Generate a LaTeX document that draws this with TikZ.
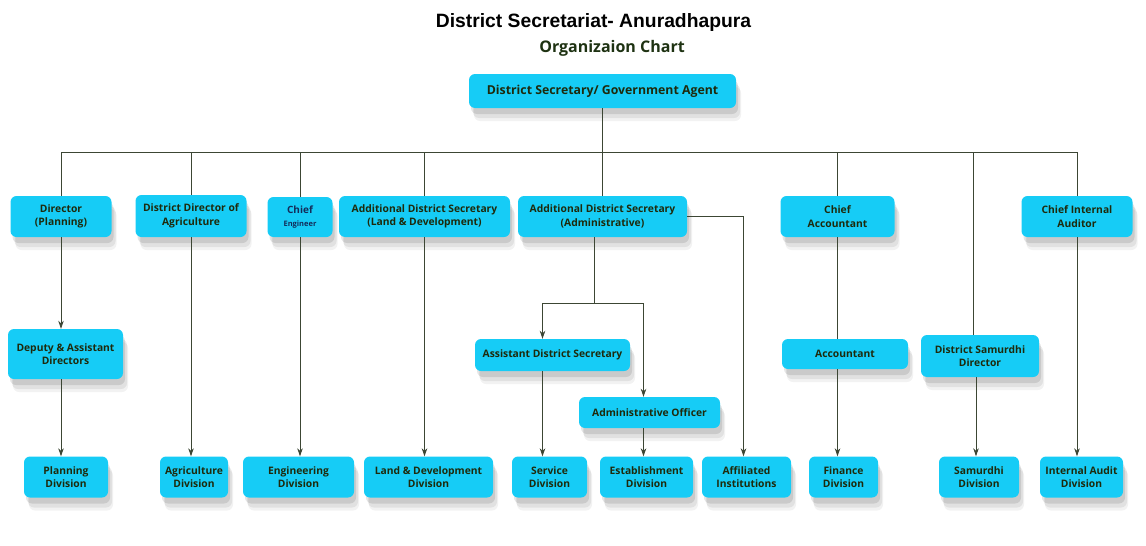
\documentclass[tikz,border=0pt]{standalone}
\usepackage{fontspec}
\setmainfont{Open Sans}
\newfontfamily\titlefont{Liberation Sans}
\usetikzlibrary{arrows.meta,shadows}
\definecolor{boxfill}{RGB}{22,204,246}
\definecolor{boxtext}{RGB}{30,42,12}
\definecolor{linecol}{RGB}{60,70,52}
\definecolor{subgreen}{RGB}{30,50,18}
\definecolor{chiefblue}{RGB}{20,45,90}

\begin{document}
\begin{tikzpicture}[x=1pt, y=-1pt,
    box/.style={fill=boxfill, rounded corners=6pt, align=center, inner sep=2pt, text=boxtext,
      font=\bfseries\fontsize{10.3}{13.5}\selectfont,
      drop shadow={shadow xshift=5pt, shadow yshift=-13pt, opacity=0.05, fill=black},
      drop shadow={shadow xshift=4pt, shadow yshift=-10pt, opacity=0.07, fill=black},
      drop shadow={shadow xshift=2pt, shadow yshift=-6pt, opacity=0.1, fill=black}},
    sz/.style 2 args={minimum width=#1pt, minimum height=#2pt},
    link/.style={draw=linecol, line width=0.8pt},
    arr/.style={link, -{Stealth[length=8pt, width=5.5pt]}}]
    \useasboundingbox (0,0) rectangle (1146,546);

    \node[font=\titlefont\bfseries\fontsize{19.3}{22}\selectfont] (title) at (593.5,23) {District Secretariat- Anuradhapura};
    \node[font=\bfseries\fontsize{16}{18}\selectfont, text=subgreen] (subtitle) at (612,48) {Organizaion Chart};

    \node[box, sz={267}{34}, font=\bfseries\fontsize{12.3}{14}\selectfont] (gov) at (602.5,91) {District Secretary/ Government Agent};
    \coordinate (bus) at (602.5,152);

    % first level
    \node[box, sz={101}{41}] (dirP) at (61,216.5) {Director\\(Planning)};
    \node[box, sz={111}{42}] (dirAg) at (191,216) {District Director of\\Agriculture};
    \node[box, sz={65}{40}, text=chiefblue] (chEng) at (300,217) {\fontsize{10}{11}\selectfont Chief\\[-1pt]\fontsize{7.5}{9}\selectfont Engineer};
    \node[box, sz={171}{41}] (adsLand) at (424.5,216.5) {Additional District Secretary\\(Land \& Development)};
    \node[box, sz={169}{41}] (adsAdm) at (602.5,216.5) {Additional District Secretary\\(Administrative)};
    \node[box, sz={114}{41}] (chAcc) at (837.5,216.5) {Chief\\Accountant};
    \node[box, sz={111}{41}] (chAud) at (1077,216.5) {Chief Internal\\Auditor};

    \draw[link] (gov) -- (adsAdm);
    \draw[link] (dirP.north |- bus) -- (chAud.north |- bus);
    \draw[link] (dirP.north) -- (dirP.north |- bus);
    \draw[link] (dirAg.north) -- (dirAg.north |- bus);
    \draw[link] (chEng.north) -- (chEng.north |- bus);
    \draw[link] (adsLand.north) -- (adsLand.north |- bus);
    \draw[link] (chAcc.north) -- (chAcc.north |- bus);
    \draw[link] (chAud.north) -- (chAud.north |- bus);

    % middle level
    \node[box, sz={115}{50}] (depDir) at (65.5,354) {Deputy \& Assistant\\Directors};
    \node[box, sz={155}{32}] (asSec) at (552.5,355) {Assistant District Secretary};
    \node[box, sz={141}{31}] (admOff) at (649.5,412.5) {Administrative Officer};
    \node[box, sz={126}{30}] (acct) at (845,354) {Accountant};
    \node[box, sz={118}{42}] (samDir) at (980,356) {District Samurdhi\\Director};

    % divisions
    \node[box, sz={84}{41}] (planDiv) at (66,477) {Planning\\Division};
    \node[box, sz={68}{41}] (agrDiv) at (194,477) {Agriculture\\Division};
    \node[box, sz={111}{41}] (engDiv) at (298.5,477) {Engineering\\Division};
    \node[box, sz={129}{41}] (landDiv) at (428.5,477) {Land \& Development\\Division};
    \node[box, sz={75}{41}] (servDiv) at (549.5,477) {Service\\Division};
    \node[box, sz={93}{41}] (estDiv) at (646.5,477) {Establishment\\Division};
    \node[box, sz={89}{41}] (affInst) at (746.5,477) {Affiliated\\Institutions};
    \node[box, sz={69}{41}] (finDiv) at (843.5,477) {Finance\\Division};
    \node[box, sz={80}{41}] (samDiv) at (979,477) {Samurdhi\\Division};
    \node[box, sz={83}{41}] (audDiv) at (1081.5,477) {Internal Audit\\Division};

    \draw[arr] (dirP) -- (depDir.north -| dirP);
    \draw[arr] (depDir.south -| dirP) -- (planDiv.north -| dirP);
    \draw[arr] (dirAg) -- (agrDiv.north -| dirAg);
    \draw[arr] (chEng) -- (engDiv.north -| chEng);
    \draw[arr] (adsLand) -- (landDiv.north -| adsLand);

    \coordinate (split) at (594,303);
    \draw[link] (adsAdm.south -| split) -- (split);
    \draw[arr] (split) -| ([xshift=-10pt]asSec.north);
    \draw[arr] (split) -| ([xshift=-6pt]admOff.north);
    \draw[arr] ([xshift=-10pt]asSec.south) -- ([xshift=-7pt]servDiv.north);
    \draw[arr] ([xshift=-6pt]admOff.south) -- ([xshift=-3pt]estDiv.north);
    \draw[arr] (adsAdm.east) -| ([xshift=-3pt]affInst.north);

    \draw[link] (chAcc) -- (acct.north -| chAcc);
    \draw[arr] (acct.south -| chAcc) -- (finDiv.north -| chAcc);
    \draw[link] ([xshift=-7pt]samDir.north) -- ([xshift=-7pt]samDir.north |- bus);
    \draw[arr] ([xshift=-4pt]samDir.south) -- ([xshift=-3pt]samDiv.north);
    \draw[arr] (chAud) -- (audDiv.north -| chAud);
\end{tikzpicture}
\end{document}
